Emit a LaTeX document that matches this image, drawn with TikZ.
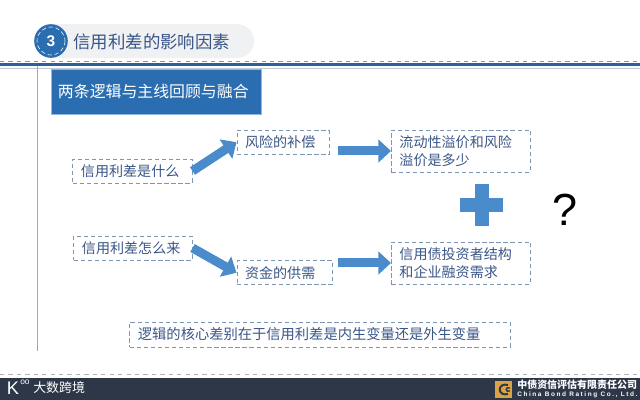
\documentclass[tikz,border=0pt]{standalone}
\usepackage{fontspec}
\setmainfont{Liberation Sans}
\newfontfamily\cjk{Noto Sans CJK SC}
\usepackage{xcolor}
\definecolor{barblue}{HTML}{2f5f98}
\definecolor{boxblue}{HTML}{2a6db0}
\definecolor{arrowblue}{HTML}{4a8ccb}
\definecolor{inktext}{HTML}{3a5687}
\definecolor{dashgrey}{HTML}{7d97b3}
\definecolor{pillgrey}{HTML}{f0f1f3}
\definecolor{footbg}{HTML}{2d3748}
\definecolor{logogold}{HTML}{d9a441}
\usetikzlibrary{
  arrows.meta,
  positioning
}

\begin{document}
\begin{tikzpicture}[
  x=0.025cm, y=-0.025cm,
  dashbox/.style={rectangle, draw=dashgrey, densely dashed, line width=0.7pt, font=\cjk\fontsize{10}{12.5}\selectfont, text=inktext, minimum height=0.6cm, inner ysep=0pt, inner xsep=0.2cm, align=left},
  arr/.style={-{Triangle[length=9pt, width=16pt]}, line width=6.4pt, arrowblue},
  footline/.style={dashed, line width=0.5pt, gray!60},
]

\useasboundingbox (0,0) rectangle (640,400);

% Kopfzeile
\node[rectangle, rounded corners=0.42cm, fill=pillgrey, minimum width=5.475cm, minimum height=0.85cm, inner sep=0pt] (pill) at (144.5,41) {};
\node[circle, fill=boxblue, minimum size=0.84cm, inner sep=0pt, font=\bfseries\fontsize{11}{13}\selectfont, text=white] (num) at (51,41) {3};
\draw[white, densely dashed, line width=0.4pt] (num.center) circle (14);
\node[font=\cjk\fontsize{12.4}{14}\selectfont, text=inktext, anchor=west, inner sep=0pt] (title) at (73,42) {信用利差的影响因素};

\draw[footline, dashgrey] (0,61) -- (640,61);
\fill[barblue] (0,63) rectangle (640,66.5);
\draw[line width=0.5pt, dashgrey!50] (0,68) -- (640,68);
\draw[line width=0.8pt, dashgrey!80] (37.5,66) -- (37.5,351);

\node[rectangle, fill=boxblue, draw=arrowblue!60, line width=0.4pt, text width=4.9cm, inner xsep=0.175cm, inner ysep=0pt, minimum height=1.125cm, font=\cjk\fontsize{11.3}{13}\selectfont, text=white, align=left] (head) at (156,91.5) {\raisebox{-2pt}{两条逻辑与主线回顾与融合}};

% Linke Spalte
\node[dashbox, text width=2.575cm] (what) at (132.5,171) {信用利差是什么};
\node[dashbox, text width=2.55cm] (how) at (133,248) {信用利差怎么来};

% Mittlere Spalte
\node[dashbox, text width=1.9cm, right=1.1cm of what.east, yshift=0.72cm] (comp) {风险的补偿};
\node[dashbox, text width=1.975cm, right=1.1cm of how.east, yshift=-0.62cm] (fund) {资金的供需};

% Rechte Spalte
\node[dashbox, minimum height=1.05cm, text width=3.075cm, anchor=west] (flow) at (391,151) {流动性溢价和风险\\溢价是多少};
\node[dashbox, minimum height=1.05cm, text width=3.075cm, anchor=west] (cred) at (391,263) {信用债投资者结构\\和企业融资需求};

\node[dashbox, font=\cjk\fontsize{10.15}{12}\selectfont, text width=9.1cm, minimum height=0.625cm] (core) at (320,334.5) {逻辑的核心差别在于信用利差是内生变量还是外生变量};

\coordinate (s1) at (338,151);
\coordinate (s2) at (338,263);

\draw[arr] (what.east) -- (comp.west);
\draw[arr] (how.east) -- (fund.west);
\draw[arr] (s1) -- (flow.west);
\draw[arr] (s2) -- (cred.west);

% Plus und Fragezeichen
\fill[arrowblue] (475,184) rectangle (489,226);
\fill[arrowblue] (460,198) rectangle (503,212);
\node[font=\fontsize{32}{36}\selectfont, text=black, inner sep=0pt] (ask) at (565,210) {?};

% Fusszeile
\draw[footline] (0,374) -- (640,374);
\fill[footbg] (0,378) rectangle (640,400);
\node[font=\fontsize{13}{14}\selectfont, text=white!80, inner sep=0pt] (kmark) at (13,388) {K};
\node[font=\fontsize{6}{7}\selectfont, text=white!80, inner sep=0pt] (oomark) at (25,382.5) {oo};
\node[font=\cjk\fontsize{9.2}{11}\selectfont, text=white!75, anchor=west, inner sep=0pt] (brand) at (33,388) {大数跨境};

\fill[logogold] (495,381) rectangle (512,398);
\draw[footbg, line width=1.4pt] (508,385) .. controls (497,382) and (497,397) .. (508,394);
\draw[footbg, line width=1pt] (510,388) .. controls (505,386) and (505,393) .. (510,391);
\node[font=\cjk\bfseries\fontsize{7.1}{8}\selectfont, text=white, anchor=west, inner sep=0pt] (firm) at (517,385) {中债资信评估有限责任公司};
\node[font=\bfseries\fontsize{4.6}{6}\selectfont, text=white!90, anchor=west, inner sep=0pt] (firmen) at (517,394.5) {\addfontfeature{LetterSpace=24}China Bond Rating Co., Ltd.};

\end{tikzpicture}
\end{document}
